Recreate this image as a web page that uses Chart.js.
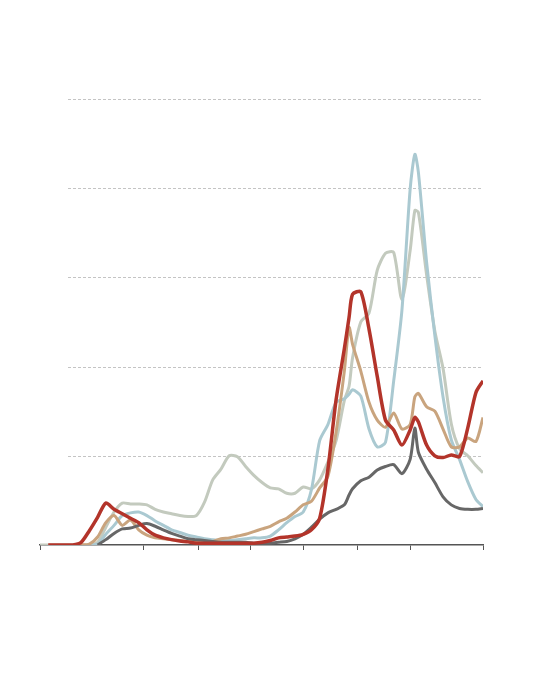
<!DOCTYPE html>
<html lang="en">
<head>
  <meta charset="UTF-8" />
  <title>Chart</title>
  <script src="https://cdn.jsdelivr.net/npm/chart.js"></script>
  <style>
    body {
      margin: 0;
      background: #fff;
    }
    .wrap {
      width: 560px;
      height: 692px;
    }
  </style>
</head>
<body>
  <div class="wrap">
    <canvas id="chart"></canvas>
  </div>

  <script>
    // days since start of the series
    const days = [0, 14, 28, 42, 56, 70, 84, 98, 112, 126, 140, 154, 168, 182, 196, 210, 224, 238,
      252, 266, 280, 294, 308, 322, 336, 350, 364, 378, 392, 406, 420, 434, 448, 462, 476, 490,
      504, 518, 526, 532, 546, 560, 574, 588, 602, 616, 630, 638, 644, 658, 672, 686, 700, 714,
      728, 742, 754];
    const xTicks = [0, 177, 269, 359, 449, 540, 631, 754];
    const yGrid = [1, 2, 3, 4, 5];

    // null = series not started yet
    const red = [null, 0, 0, 0, 0, 0.03, 0.16, 0.31, 0.47, 0.40, 0.35, 0.30, 0.25, 0.17, 0.11, 0.08, 0.06, 0.045,
      0.035, 0.02, 0.02, 0.02, 0.02, 0.02, 0.02, 0.02, 0.02, 0.03, 0.05, 0.08, 0.09, 0.10, 0.12, 0.17, 0.30, 0.85,
      1.63, 2.2, 2.55, 2.81, 2.84, 2.42, 1.89, 1.40, 1.29, 1.12, 1.29, 1.43, 1.38, 1.12, 1.0, 0.98, 1.01, 0.99,
      1.31, 1.71, 1.84];
    const darkGray = [null, null, null, null, null, null, null, 0, 0.06, 0.13, 0.18, 0.19, 0.22, 0.24, 0.21, 0.17, 0.13, 0.10,
      0.07, 0.06, 0.05, 0.04, 0.03, 0.03, 0.03, 0.03, 0.02, 0.02, 0.02, 0.03, 0.04, 0.07, 0.12, 0.20, 0.29, 0.36,
      0.40, 0.45, 0.56, 0.63, 0.72, 0.76, 0.84, 0.88, 0.90, 0.80, 0.96, 1.31, 1.04, 0.85, 0.70, 0.54, 0.45, 0.41,
      0.40, 0.40, 0.41];
    const tan = [null, null, null, null, null, 0, 0.01, 0.09, 0.25, 0.33, 0.22, 0.28, 0.17, 0.11, 0.08, 0.07, 0.06, 0.05,
      0.04, 0.04, 0.04, 0.04, 0.07, 0.08, 0.10, 0.12, 0.15, 0.18, 0.21, 0.26, 0.30, 0.37, 0.45, 0.49, 0.64, 0.77,
      1.27, 1.95, 2.44, 2.25, 1.95, 1.60, 1.40, 1.32, 1.48, 1.30, 1.35, 1.66, 1.70, 1.55, 1.50, 1.30, 1.10, 1.10,
      1.20, 1.16, 1.43];
    const blue = [null, null, null, null, null, null, 0, 0.01, 0.12, 0.22, 0.33, 0.36, 0.37, 0.33, 0.27, 0.22, 0.17, 0.14,
      0.11, 0.09, 0.07, 0.06, 0.05, 0.05, 0.06, 0.07, 0.08, 0.08, 0.10, 0.17, 0.25, 0.32, 0.37, 0.62, 1.17, 1.35,
      1.60, 1.64, 1.69, 1.74, 1.67, 1.30, 1.10, 1.15, 1.84, 2.63, 3.99, 4.38, 4.18, 3.17, 2.35, 1.66, 1.18, 0.96,
      0.71, 0.51, 0.43];
    const grayGreen = [0, 0, 0, 0, 0, 0, 0, 0.03, 0.20, 0.37, 0.47, 0.46, 0.46, 0.45, 0.40, 0.37, 0.35, 0.33,
      0.32, 0.33, 0.48, 0.73, 0.85, 1.0, 0.99, 0.88, 0.78, 0.70, 0.64, 0.63, 0.58, 0.58, 0.65, 0.63, 0.73, 0.93,
      1.17, 1.62, 1.78, 2.1, 2.5, 2.6, 3.08, 3.27, 3.28, 2.75, 3.3, 3.75, 3.73, 3.03, 2.4, 1.98, 1.36, 1.08,
      1.0, 0.89, 0.81];

    function pts(values) {
      return values.map((v, i) => ({ x: days[i], y: v }));
    }

    // dashed horizontal guides that start a bit right of the axis origin
    const dashedGrid = {
      id: 'dashedGrid',
      beforeDatasetsDraw(chart) {
        const ctx = chart.ctx;
        const area = chart.chartArea;
        const y = chart.scales.y;
        ctx.save();
        ctx.strokeStyle = '#c4c4c4';
        ctx.lineWidth = 1;
        ctx.setLineDash([3, 2]);
        yGrid.forEach(v => {
          const py = Math.round(y.getPixelForValue(v)) + 0.5;
          ctx.beginPath();
          ctx.moveTo(area.left + 28, py);
          ctx.lineTo(area.right - 2, py);
          ctx.stroke();
        });
        ctx.restore();
      }
    };

    const line = (data, color, order, width) => ({
      data: pts(data),
      borderColor: color,
      borderWidth: width || 3,
      pointRadius: 0,
      tension: 0.25,
      fill: false,
      order: order
    });

    new Chart(document.getElementById('chart'), {
      type: 'line',
      data: {
        datasets: [
          line(red, '#b3342a', 0, 3.5),
          line(darkGray, '#676767', 1),
          line(tan, '#c9a47e', 2),
          line(blue, '#aac9d1', 3),
          line(grayGreen, '#c3cabe', 4)
        ]
      },
      plugins: [dashedGrid],
      options: {
        responsive: true,
        maintainAspectRatio: false,
        animation: false,
        layout: { padding: { left: 40, right: 77, top: 99, bottom: 142 } },
        plugins: {
          legend: { display: false },
          tooltip: { enabled: false }
        },
        scales: {
          x: {
            type: 'linear',
            min: 0,
            max: 754,
            afterBuildTicks: scale => {
              scale.ticks = xTicks.map(v => ({ value: v }));
            },
            grid: {
              drawOnChartArea: false,
              drawTicks: true,
              tickLength: 5,
              color: '#555'
            },
            border: { display: true, color: '#555', width: 1.5 },
            ticks: { display: false }
          },
          y: {
            display: false,
            min: 0,
            max: 5
          }
        }
      }
    });
  </script>
</body>
</html>
